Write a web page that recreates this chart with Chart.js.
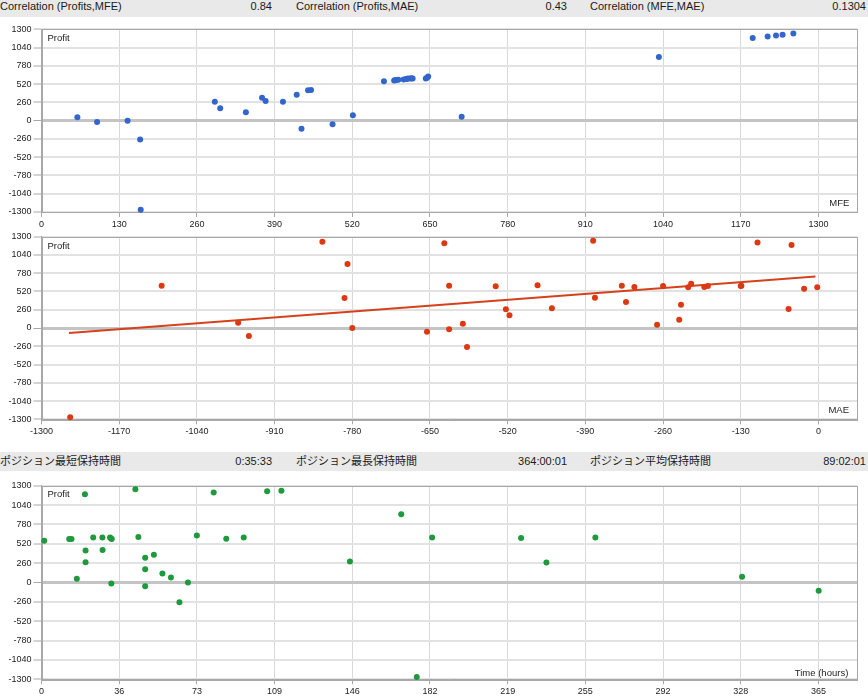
<!DOCTYPE html>
<html><head><meta charset="utf-8">
<script src="https://cdn.jsdelivr.net/npm/chart.js@4"></script>
<style>
html,body{margin:0;padding:0;background:#fff;width:868px;height:696px;overflow:hidden;}
body{position:relative;font-family:"Liberation Sans","Noto Sans CJK JP",sans-serif;}
.bar{position:absolute;left:0;width:868px;background:#e9e9e9;}
.bar span{position:absolute;top:0;font-size:11px;color:#1a1a1a;white-space:nowrap;}
canvas{position:absolute;left:0;}
.lbl{position:absolute;font-size:9.5px;line-height:10px;color:#222;white-space:nowrap;}
</style></head><body>
<div class="bar" id="bar1" style="top:0;height:17px;"></div>
<div class="bar" id="bar2" style="top:452px;height:19px;"></div>
<canvas id="c1" width="868" height="210" style="top:18px;width:868px;height:210px;"></canvas>
<canvas id="c2" width="868" height="212" style="top:228px;width:868px;height:212px;"></canvas>
<canvas id="c3" width="868" height="225" style="top:471px;width:868px;height:225px;"></canvas>
<div class="lbl" style="left:47.5px;top:33.3px;">Profit</div>
<div class="lbl" style="left:47.5px;top:240.7px;">Profit</div>
<div class="lbl" style="left:47.5px;top:489.3px;">Profit</div>
<div class="lbl" style="right:18.7px;top:198.3px;">MFE</div>
<div class="lbl" style="right:19px;top:405px;">MAE</div>
<div class="lbl" style="right:19.7px;top:667.7px;">Time (hours)</div>
<script>
// ---- header statistics ----
const stats1Labels = ['Correlation (Profits,MFE)', 'Correlation (Profits,MAE)', 'Correlation (MFE,MAE)'];
const stats1Values = ['0.84', '0.43', '0.1304'];
const stats2Labels = ['ポジション最短保持時間', 'ポジション最長保持時間', 'ポジション平均保持時間'];
const stats2Values = ['0:35:33', '364:00:01', '89:02:01'];

// ---- tick values / labels ----
const profitTicks = [-1300, -1040, -780, -520, -260, 0, 260, 520, 780, 1040, 1300];
const mfeTicks = [0, 130, 260, 390, 520, 650, 780, 910, 1040, 1170, 1300];
const maeTicks = [-1300, -1170, -1040, -910, -780, -650, -520, -390, -260, -130, 0];
const timeTickValues = [0, 36.5, 73, 109.5, 146, 182.5, 219, 255.5, 292, 328.5, 365];
const timeTickLabels = ['0', '36', '73', '109', '146', '182', '219', '255', '292', '328', '365'];

// ---- series: Profit vs MFE ----
const mfe = [60, 93, 144, 165, 166, 290, 299, 342, 369, 375, 404, 427, 435, 446, 451, 487, 521, 573, 590, 592, 593, 597, 606, 610, 612, 614, 618, 619, 621, 643, 645, 647, 703, 1033, 1190, 1215, 1229, 1240, 1258];
const mfeProfit = [47, -19, 0, -270, -1269, 270, 175, 118, 327, 279, 270, 369, -114, 431, 435, -52, 76, 559, 573, 575, 578, 582, 587, 592, 598, 601, 601, 603, 601, 601, 612, 630, 57, 905, 1175, 1198, 1212, 1222, 1241];

// ---- series: Profit vs MAE ----
const mae = [-1252, -1099, -971, -953, -830, -788, -793, -780, -655, -626, -618, -618, -595, -588, -540, -523, -517, -470, -446, -377, -374, -329, -322, -308, -270, -260, -233, -230, -218, -213, -191, -185, -130, -129, -102, -50, -45, -24, -2];
const maeProfit = [-1272, 603, 76, -114, 1229, 911, 427, 0, -52, 1205, 603, -19, 62, -270, 593, 266, 180, 607, 280, 1243, 432, 603, 370, 584, 47, 598, 119, 332, 579, 631, 584, 598, 598, 603, 1219, 270, 1181, 560, 579];
const trendMae = [-1254, -5];
const trendProfit = [-71, 735];

// ---- series: Profit vs holding time ----
const hours = [1.3, 13, 14.1, 16.6, 20.4, 20.7, 20.7, 24.3, 28.6, 28.7, 32.2, 32.7, 33, 32.8, 44.1, 45.5, 48.7, 48.7, 48.7, 52.8, 56.8, 60.8, 64.8, 68.8, 73, 80.9, 86.8, 95, 106, 112.7, 144.9, 169, 176.3, 183.5, 225.3, 237.2, 260.2, 329.1, 365.1];
const hoursProfit = [560, 583, 583, 49, 1184, 430, 273, 605, 605, 435, 605, 592, 583, -13, 1251, 610, 332, 179, -49, 372, 121, 67, -264, 0, 632, 1210, 587, 605, 1224, 1233, 282, 915, -1269, 605, 596, 269, 605, 76, -112];

// ---- header bars ----
function fillBar(id, labels, values, lh) {
  const bar = document.getElementById(id);
  const lefts = [0, 296, 590];
  const rights = [272, 567, 866];
  labels.forEach((t, i) => {
    const a = document.createElement('span');
    a.textContent = t; a.style.left = lefts[i] + 'px'; a.style.lineHeight = lh + 'px';
    bar.appendChild(a);
    const b = document.createElement('span');
    b.textContent = values[i]; b.style.right = (868 - rights[i]) + 'px'; b.style.lineHeight = lh + 'px';
    bar.appendChild(b);
  });
}
fillBar('bar1', stats1Labels, stats1Values, 13);
fillBar('bar2', stats2Labels, stats2Values, 19);

const frame = {
  id: 'frame',
  beforeDatasetsDraw(chart) {
    const a = chart.chartArea, ctx = chart.ctx;
    ctx.save();
    ctx.strokeStyle = '#a8a8a8'; ctx.lineWidth = 1;
    ctx.strokeRect(Math.round(a.left) + 0.5, Math.round(a.top) + 0.5, Math.round(a.right - a.left) - 1, Math.round(a.bottom - a.top));
    ctx.restore();
  }
};

const tickFont = { family: 'Liberation Sans', size: 9 };

function pts(xs, ys) { return xs.map((x, i) => ({ x: x, y: ys[i] })); }

function makeChart(id, opts) {
  const yScale = {
    type: 'linear', position: 'left', min: -1300, max: 1300,
    afterBuildTicks: a => { a.ticks = profitTicks.map(v => ({ value: v })); },
    afterFit: a => { a.width = 41.5; },
    ticks: { font: tickFont, color: '#222', padding: 2, autoSkip: false, callback: v => String(v) },
    grid: {
      color: c => (c.tick && c.tick.value === 0) ? '#c4c4c4' : '#e2e2e2',
      lineWidth: c => (c.tick && c.tick.value === 0) ? 3 : 2,
      tickLength: 8, tickColor: '#a8a8a8', tickWidth: 1
    },
    border: { display: true, color: '#a8a8a8', width: 1 }
  };
  const xScale = {
    type: 'linear', position: 'bottom', min: opts.xmin, max: opts.xmax,
    afterBuildTicks: a => { a.ticks = opts.xticks.map(v => ({ value: v })); },
    afterFit: a => { a.height = opts.xh; },
    ticks: { font: tickFont, color: '#222', padding: 2, autoSkip: false, maxRotation: 0, callback: opts.xlabel },
    grid: { color: '#d9d9d9', lineWidth: 1, tickLength: 5, tickColor: '#a8a8a8', tickWidth: 1 },
    border: { display: true, color: '#a8a8a8', width: 1 }
  };
  return new Chart(document.getElementById(id), {
    type: 'scatter',
    data: { datasets: opts.datasets },
    options: {
      responsive: false, animation: false, devicePixelRatio: 1,
      layout: { padding: { top: opts.padTop, right: 10.7, bottom: 0, left: 0 } },
      plugins: { legend: { display: false }, tooltip: { enabled: false } },
      scales: { x: xScale, y: yScale }
    },
    plugins: [frame]
  });
}

const dotStyle = c => ({ pointRadius: 3, pointBorderWidth: 0, pointBackgroundColor: c, backgroundColor: c, borderColor: c, clip: false, order: 0 });

makeChart('c1', {
  xmin: 0, xmax: 1365, xticks: mfeTicks, xh: 16, padTop: 11.3,
  xlabel: v => String(v),
  datasets: [Object.assign({ data: pts(mfe, mfeProfit) }, dotStyle('#3366cc'))]
});

makeChart('c2', {
  xmin: -1300, xmax: 65, xticks: maeTicks, xh: 20.7, padTop: 8.7,
  xlabel: v => String(v),
  datasets: [
    Object.assign({ data: pts(mae, maeProfit) }, dotStyle('#dc3912')),
    { type: 'line', data: pts(trendMae, trendProfit), borderColor: '#d4421c', borderWidth: 2, pointRadius: 0, fill: false, showLine: true, order: 1, clip: false }
  ]
});

makeChart('c3', {
  xmin: 0, xmax: 383.25, xticks: timeTickValues, xh: 16.7, padTop: 14.7,
  xlabel: (v, i) => timeTickLabels[i],
  datasets: [Object.assign({ data: pts(hours, hoursProfit) }, dotStyle('#1e9a3c'))]
});
</script>
</body></html>
